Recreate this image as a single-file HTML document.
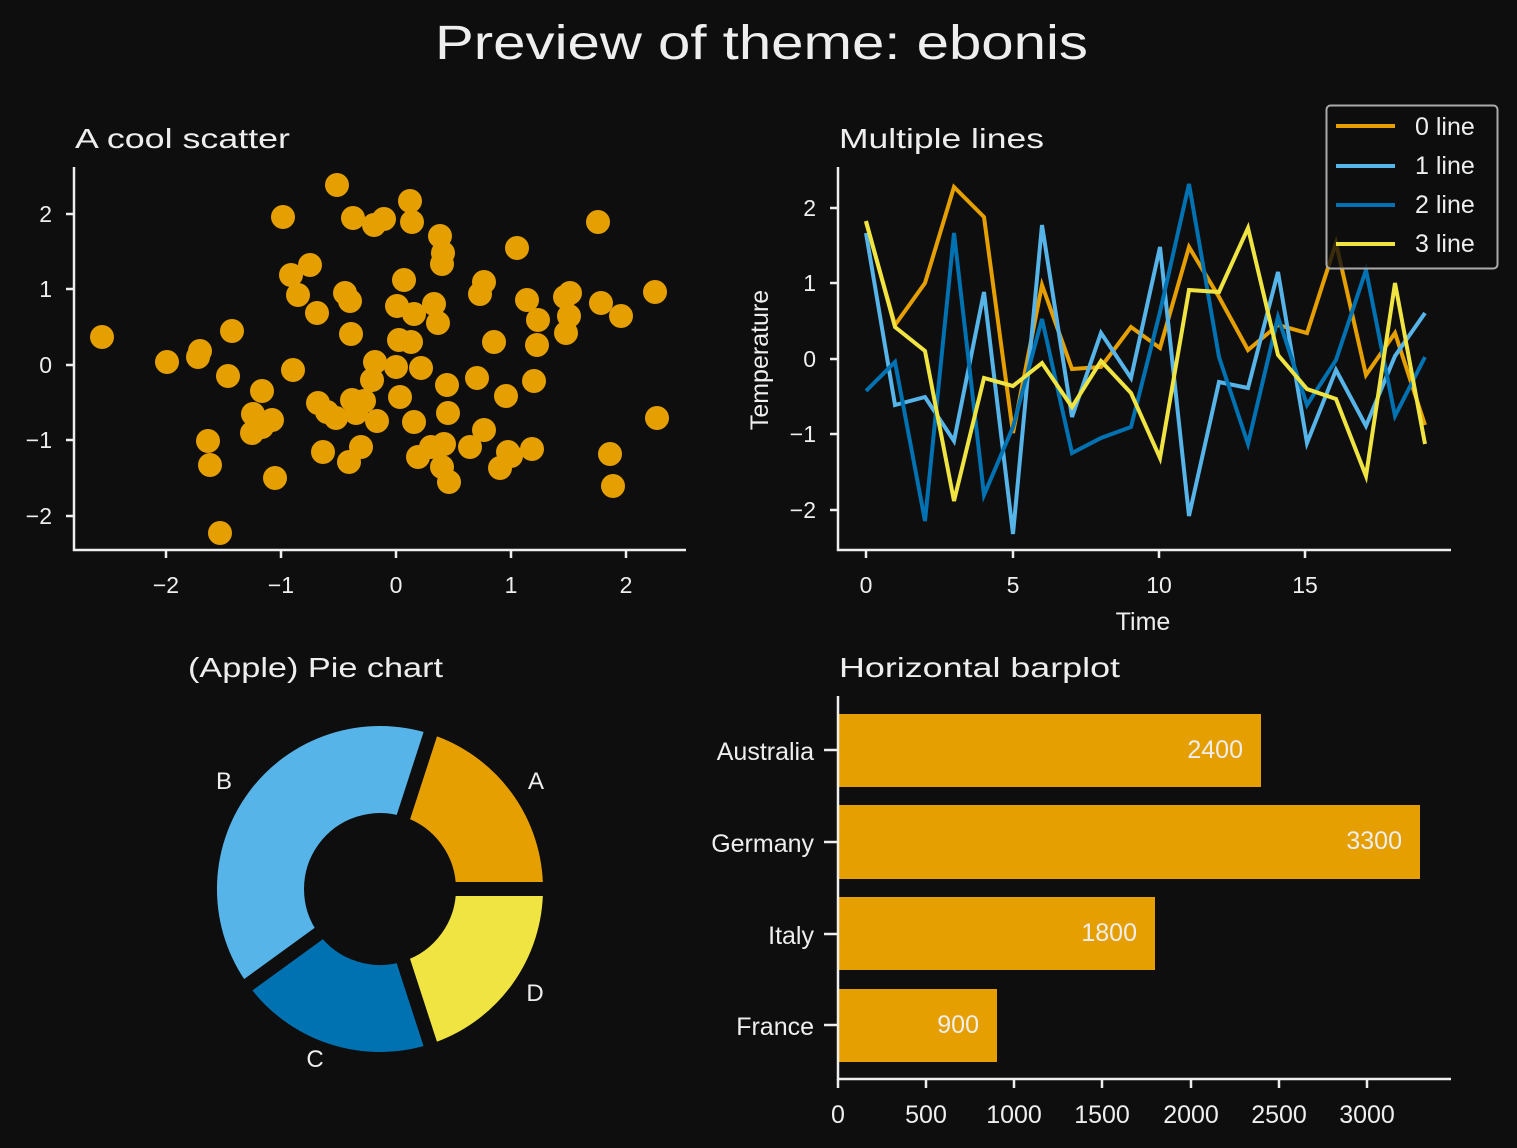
<!DOCTYPE html>
<html><head><meta charset="utf-8"><style>
html,body{margin:0;padding:0;background:#0e0e0e;}
svg{display:block;}
text{font-family:"Liberation Sans",sans-serif;fill:#eeeeee;}
</style></head><body>
<svg width="1517" height="1148" viewBox="0 0 1517 1148" xmlns="http://www.w3.org/2000/svg">
<rect width="1517" height="1148" fill="#0e0e0e"/>
<text x="435" y="59" font-size="48" textLength="653" lengthAdjust="spacingAndGlyphs">Preview of theme: ebonis</text>

<!-- Scatter -->
<text x="75" y="148" font-size="28" textLength="215" lengthAdjust="spacingAndGlyphs">A cool scatter</text>
<g fill="#E69F00">
<circle cx="102" cy="337" r="12"/><circle cx="167" cy="362" r="12"/><circle cx="198" cy="357" r="12"/><circle cx="200" cy="351" r="12"/><circle cx="232" cy="331" r="12"/><circle cx="228" cy="376" r="12"/><circle cx="262" cy="391" r="12"/><circle cx="253" cy="414" r="12"/><circle cx="252" cy="433" r="12"/><circle cx="272" cy="420" r="12"/><circle cx="262" cy="427" r="12"/><circle cx="208" cy="441" r="12"/><circle cx="210" cy="465" r="12"/><circle cx="275" cy="478" r="12"/><circle cx="220" cy="533" r="12"/><circle cx="283" cy="217" r="12"/><circle cx="293" cy="370" r="12"/><circle cx="291" cy="275" r="12"/><circle cx="298" cy="295" r="12"/><circle cx="310" cy="265" r="12"/><circle cx="317" cy="313" r="12"/><circle cx="337" cy="185" r="12"/><circle cx="353" cy="218" r="12"/><circle cx="374" cy="225" r="12"/><circle cx="384" cy="219" r="12"/><circle cx="350" cy="301" r="12"/><circle cx="345" cy="293" r="12"/><circle cx="351" cy="334" r="12"/><circle cx="318" cy="403" r="12"/><circle cx="336" cy="418" r="12"/><circle cx="327" cy="412" r="12"/><circle cx="323" cy="452" r="12"/><circle cx="349" cy="462" r="12"/><circle cx="361" cy="447" r="12"/><circle cx="352" cy="400" r="12"/><circle cx="356" cy="413" r="12"/><circle cx="364" cy="401" r="12"/><circle cx="377" cy="421" r="12"/><circle cx="372" cy="380" r="12"/><circle cx="375" cy="362" r="12"/><circle cx="396" cy="367" r="12"/><circle cx="404" cy="280" r="12"/><circle cx="397" cy="306" r="12"/><circle cx="410" cy="201" r="12"/><circle cx="412" cy="222" r="12"/><circle cx="399" cy="340" r="12"/><circle cx="411" cy="342" r="12"/><circle cx="414" cy="314" r="12"/><circle cx="434" cy="304" r="12"/><circle cx="438" cy="323" r="12"/><circle cx="421" cy="368" r="12"/><circle cx="400" cy="397" r="12"/><circle cx="414" cy="422" r="12"/><circle cx="418" cy="457" r="12"/><circle cx="440" cy="236" r="12"/><circle cx="443" cy="253" r="12"/><circle cx="442" cy="264" r="12"/><circle cx="447" cy="385" r="12"/><circle cx="448" cy="413" r="12"/><circle cx="444" cy="444" r="12"/><circle cx="442" cy="467" r="12"/><circle cx="449" cy="482" r="12"/><circle cx="431" cy="447" r="12"/><circle cx="470" cy="447" r="12"/><circle cx="477" cy="378" r="12"/><circle cx="484" cy="282" r="12"/><circle cx="480" cy="294" r="12"/><circle cx="494" cy="342" r="12"/><circle cx="484" cy="430" r="12"/><circle cx="506" cy="396" r="12"/><circle cx="500" cy="468" r="12"/><circle cx="511" cy="456" r="12"/><circle cx="508" cy="452" r="12"/><circle cx="517" cy="248" r="12"/><circle cx="527" cy="300" r="12"/><circle cx="538" cy="320" r="12"/><circle cx="537" cy="345" r="12"/><circle cx="534" cy="381" r="12"/><circle cx="532" cy="449" r="12"/><circle cx="565" cy="297" r="12"/><circle cx="570" cy="293" r="12"/><circle cx="566" cy="333" r="12"/><circle cx="569" cy="316" r="12"/><circle cx="598" cy="222" r="12"/><circle cx="601" cy="303" r="12"/><circle cx="621" cy="316" r="12"/><circle cx="655" cy="292" r="12"/><circle cx="657" cy="418" r="12"/><circle cx="610" cy="454" r="12"/><circle cx="613" cy="486" r="12"/>
</g>
<g stroke="#eeeeee" stroke-width="2.5" fill="none">
<path d="M74,167 V550 H686"/>
<path d="M166,550v8M281,550v8M396,550v8M511,550v8M626,550v8"/>
<path d="M66,214h8M66,289h8M66,365h8M66,440h8M66,516h8"/>
</g>
<g font-size="23" text-anchor="middle">
<text x="166" y="593">−2</text><text x="281" y="593">−1</text><text x="396" y="593">0</text><text x="511" y="593">1</text><text x="626" y="593">2</text>
</g>
<g font-size="23" text-anchor="end">
<text x="52" y="222">2</text><text x="52" y="297">1</text><text x="52" y="373">0</text><text x="52" y="448">−1</text><text x="52" y="524">−2</text>
</g>

<!-- Lines -->
<text x="839" y="148" font-size="28" textLength="205" lengthAdjust="spacingAndGlyphs">Multiple lines</text>
<g fill="none" stroke-width="4" stroke-linejoin="miter">
<polyline stroke="#E69F00" points="866,222 895,325 925,283 954,187 984,217 1013,433 1042,285 1072,369 1101,367 1131,327 1160,348 1189,247 1219,297 1248,350 1278,325 1307,333 1336,243 1366,375 1395,333 1425,425"/>
<polyline stroke="#56B4E9" points="866,233 895,405 925,397 954,441 984,292 1013,534 1042,225 1072,417 1101,333 1131,378 1160,247 1189,516 1219,382 1248,388 1278,272 1307,443 1336,370 1366,426 1395,356 1425,313"/>
<polyline stroke="#0072B2" points="866,391 895,362 925,521 954,233 984,495 1013,427 1042,319 1072,453 1101,438 1131,427 1160,312 1189,184 1219,357 1248,444 1278,317 1307,405 1336,360 1366,270 1395,416 1425,357"/>
<polyline stroke="#F0E442" points="866,221 895,327 925,351 954,501 984,378 1013,386 1042,363 1072,407 1101,361 1131,393 1160,458 1189,290 1219,292 1248,228 1278,355 1307,389 1336,399 1366,476 1395,283 1425,444"/>
</g>
<g stroke="#eeeeee" stroke-width="2.5" fill="none">
<path d="M838,167 V550 H1451"/>
<path d="M866,550v8M1013,550v8M1159,550v8M1305,550v8"/>
<path d="M830,208h8M830,283h8M830,359h8M830,434h8M830,510h8"/>
</g>
<g font-size="23" text-anchor="middle">
<text x="866" y="593">0</text><text x="1013" y="593">5</text><text x="1159" y="593">10</text><text x="1305" y="593">15</text>
<text x="1143" y="630" font-size="25">Time</text>
</g>
<g font-size="23" text-anchor="end">
<text x="816" y="216">2</text><text x="816" y="291">1</text><text x="816" y="367">0</text><text x="816" y="442">−1</text><text x="816" y="518">−2</text>
</g>
<text transform="translate(768,360) rotate(-90)" font-size="25" text-anchor="middle">Temperature</text>
<rect x="1326.5" y="105.5" width="171" height="163" rx="4" fill="#0e0e0e" fill-opacity="0.8" stroke="#aaaaaa" stroke-width="2"/>
<g stroke-width="4">
<line x1="1336" y1="126" x2="1395" y2="126" stroke="#E69F00"/>
<line x1="1336" y1="166" x2="1395" y2="166" stroke="#56B4E9"/>
<line x1="1336" y1="205" x2="1395" y2="205" stroke="#0072B2"/>
<line x1="1336" y1="244" x2="1395" y2="244" stroke="#F0E442"/>
</g>
<g font-size="25">
<text x="1415" y="135">0 line</text><text x="1415" y="174">1 line</text><text x="1415" y="213">2 line</text><text x="1415" y="252">3 line</text>
</g>

<!-- Pie -->
<text x="188" y="677" font-size="28" textLength="255" lengthAdjust="spacingAndGlyphs">(Apple) Pie chart</text>
<g stroke="#0e0e0e" stroke-width="14" stroke-linejoin="miter">
<path fill="#E69F00" d="M449,889 L550,889 A170,170 0 0 0 432.5,727.3 L401.3,823.4 A69,69 0 0 1 449,889 Z"/>
<path fill="#56B4E9" d="M401.3,823.4 L432.5,727.3 A170,170 0 0 0 242.5,989 L324.2,929.6 A69,69 0 0 1 401.3,823.4 Z"/>
<path fill="#0072B2" d="M324.2,929.6 L242.5,989 A170,170 0 0 0 432.5,1050.7 L401.3,954.6 A69,69 0 0 1 324.2,929.6 Z"/>
<path fill="#F0E442" d="M401.3,954.6 L432.5,1050.7 A170,170 0 0 0 550,889 L449,889 A69,69 0 0 1 401.3,954.6 Z"/>
</g>
<g font-size="24" text-anchor="middle">
<text x="536" y="789">A</text><text x="224" y="789">B</text><text x="315" y="1067">C</text><text x="535" y="1001">D</text>
</g>

<!-- Bars -->
<text x="839" y="677" font-size="28" textLength="281" lengthAdjust="spacingAndGlyphs">Horizontal barplot</text>
<g fill="#E69F00">
<rect x="838" y="714" width="423" height="73"/>
<rect x="838" y="805" width="582" height="74"/>
<rect x="838" y="897" width="317" height="73"/>
<rect x="838" y="989" width="159" height="73"/>
</g>
<g font-size="25" text-anchor="end">
<text x="1243" y="758">2400</text><text x="1402" y="849">3300</text><text x="1137" y="941">1800</text><text x="979" y="1033">900</text>
</g>
<g stroke="#eeeeee" stroke-width="2.5" fill="none">
<path d="M838,696 V1079 H1451"/>
<path d="M838,1079v9M926,1079v9M1014,1079v9M1102,1079v9M1191,1079v9M1279,1079v9M1367,1079v9"/>
<path d="M824,750h14M824,842h14M824,934h14M824,1025h14"/>
</g>
<g font-size="25" text-anchor="end">
<text x="814" y="760">Australia</text><text x="814" y="852">Germany</text><text x="814" y="944">Italy</text><text x="814" y="1035">France</text>
</g>
<g font-size="25" text-anchor="middle">
<text x="838" y="1123">0</text><text x="926" y="1123">500</text><text x="1014" y="1123">1000</text><text x="1102" y="1123">1500</text><text x="1191" y="1123">2000</text><text x="1279" y="1123">2500</text><text x="1367" y="1123">3000</text>
</g>
</svg>
</body></html>
